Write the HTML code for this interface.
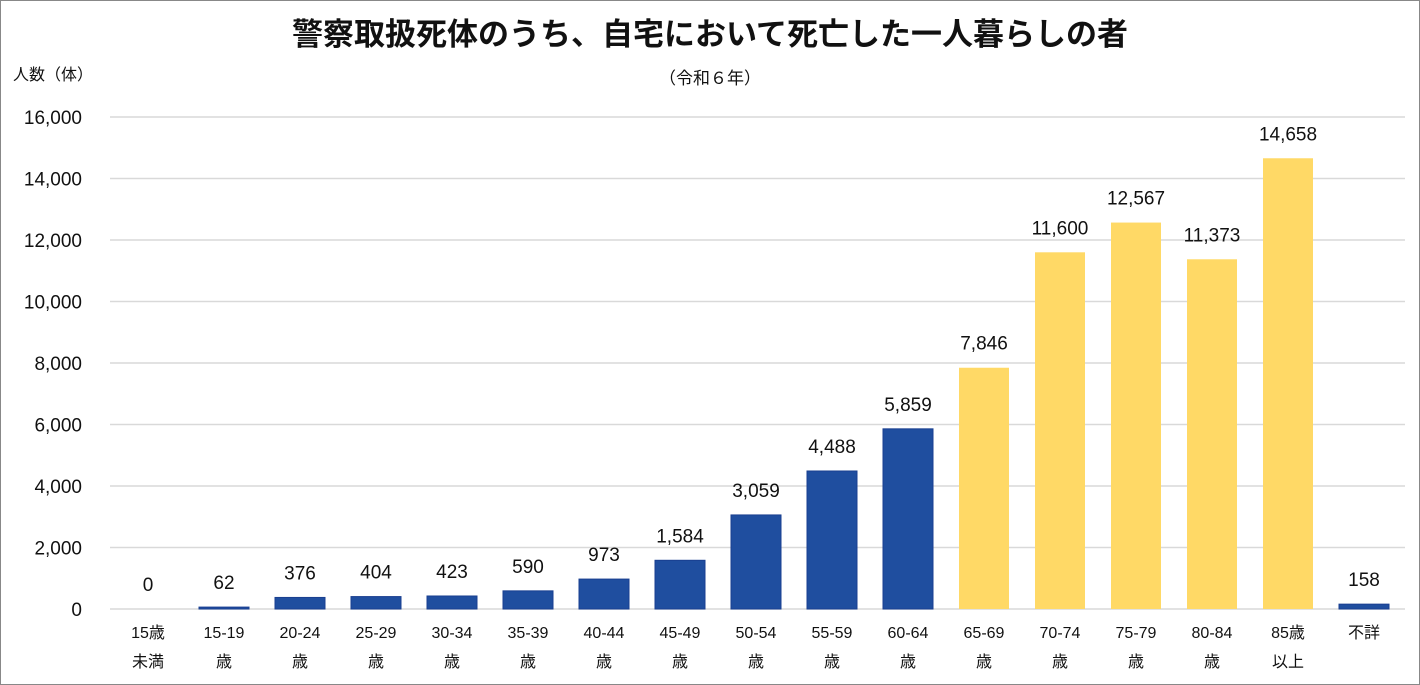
<!DOCTYPE html>
<html><head><meta charset="utf-8"><style>
body{margin:0;background:#fff}
svg{display:block}
text{font-family:"Liberation Sans","Noto Sans CJK JP",sans-serif;fill:#111}
</style></head><body>
<svg id="c" width="1420" height="685">
<rect x="0.5" y="0.5" width="1419" height="684" fill="#fff" stroke="#888"/>
<text x="710" y="45" text-anchor="middle" font-size="31" font-weight="bold">警察取扱死体のうち、自宅において死亡した一人暮らしの者</text>
<text x="710" y="84" text-anchor="middle" font-size="17">（令和６年）</text>
<text x="13" y="80" font-size="16">人数（体）</text>
<g id="grid"></g><g id="bars"></g><g id="labels"></g>
</svg>
<script>
const categories1=["15歳","15-19","20-24","25-29","30-34","35-39","40-44","45-49","50-54","55-59","60-64","65-69","70-74","75-79","80-84","85歳","不詳"];
const categories2=["未満","歳","歳","歳","歳","歳","歳","歳","歳","歳","歳","歳","歳","歳","歳","以上",""];
const values=[0,62,376,404,423,590,973,1584,3059,4488,5859,7846,11600,12567,11373,14658,158];
const elderly=[0,0,0,0,0,0,0,0,0,0,0,1,1,1,1,1,0];
const yTicks=[0,2000,4000,6000,8000,10000,12000,14000,16000];
const NS="http://www.w3.org/2000/svg";
const y0=609,yTop=117,yMax=16000,x0=110,x1=1405,step=76,firstC=148,bw=50;
const y=v=>y0-(v/yMax)*(y0-yTop);
const x=i=>firstC+i*step;
const fmt=v=>v.toLocaleString("en-US");
function mk(t,a,p){const e=document.createElementNS(NS,t);for(const k in a)e.setAttribute(k,a[k]);p.appendChild(e);return e;}
const g=document.getElementById("grid"),b=document.getElementById("bars"),l=document.getElementById("labels");
yTicks.forEach(v=>{
 const ln=mk("line",{x1:x0,x2:x1,y1:y(v),y2:y(v),stroke:"#d9d9d9","stroke-width":1.5},g);
 
 
 const t=mk("text",{x:82,y:y(v)+7,"text-anchor":"end","font-size":19},g);
 t.textContent=fmt(v);
 
 
});
values.forEach((v,i)=>{
 const h=y0-y(v);
 if(v>0){
  const r=mk("rect",{x:x(i)-bw/2,y:y(v),width:bw,height:h,fill:elderly[i]?"#FFD966":"#1F4E9F",stroke:elderly[i]?"none":"#1a3f90","stroke-width":1},b);
  
  
 }
 const t=mk("text",{x:x(i),y:y(v)-18,"text-anchor":"middle","font-size":19},l);
 t.textContent=fmt(v);
 
 
 const c1=mk("text",{x:x(i),y:638,"text-anchor":"middle","font-size":16},l);
 c1.textContent=categories1[i];
 
 
 const c2=mk("text",{x:x(i),y:667,"text-anchor":"middle","font-size":16},l);
 c2.textContent=categories2[i];
 
 
});
</script>
</body></html>
